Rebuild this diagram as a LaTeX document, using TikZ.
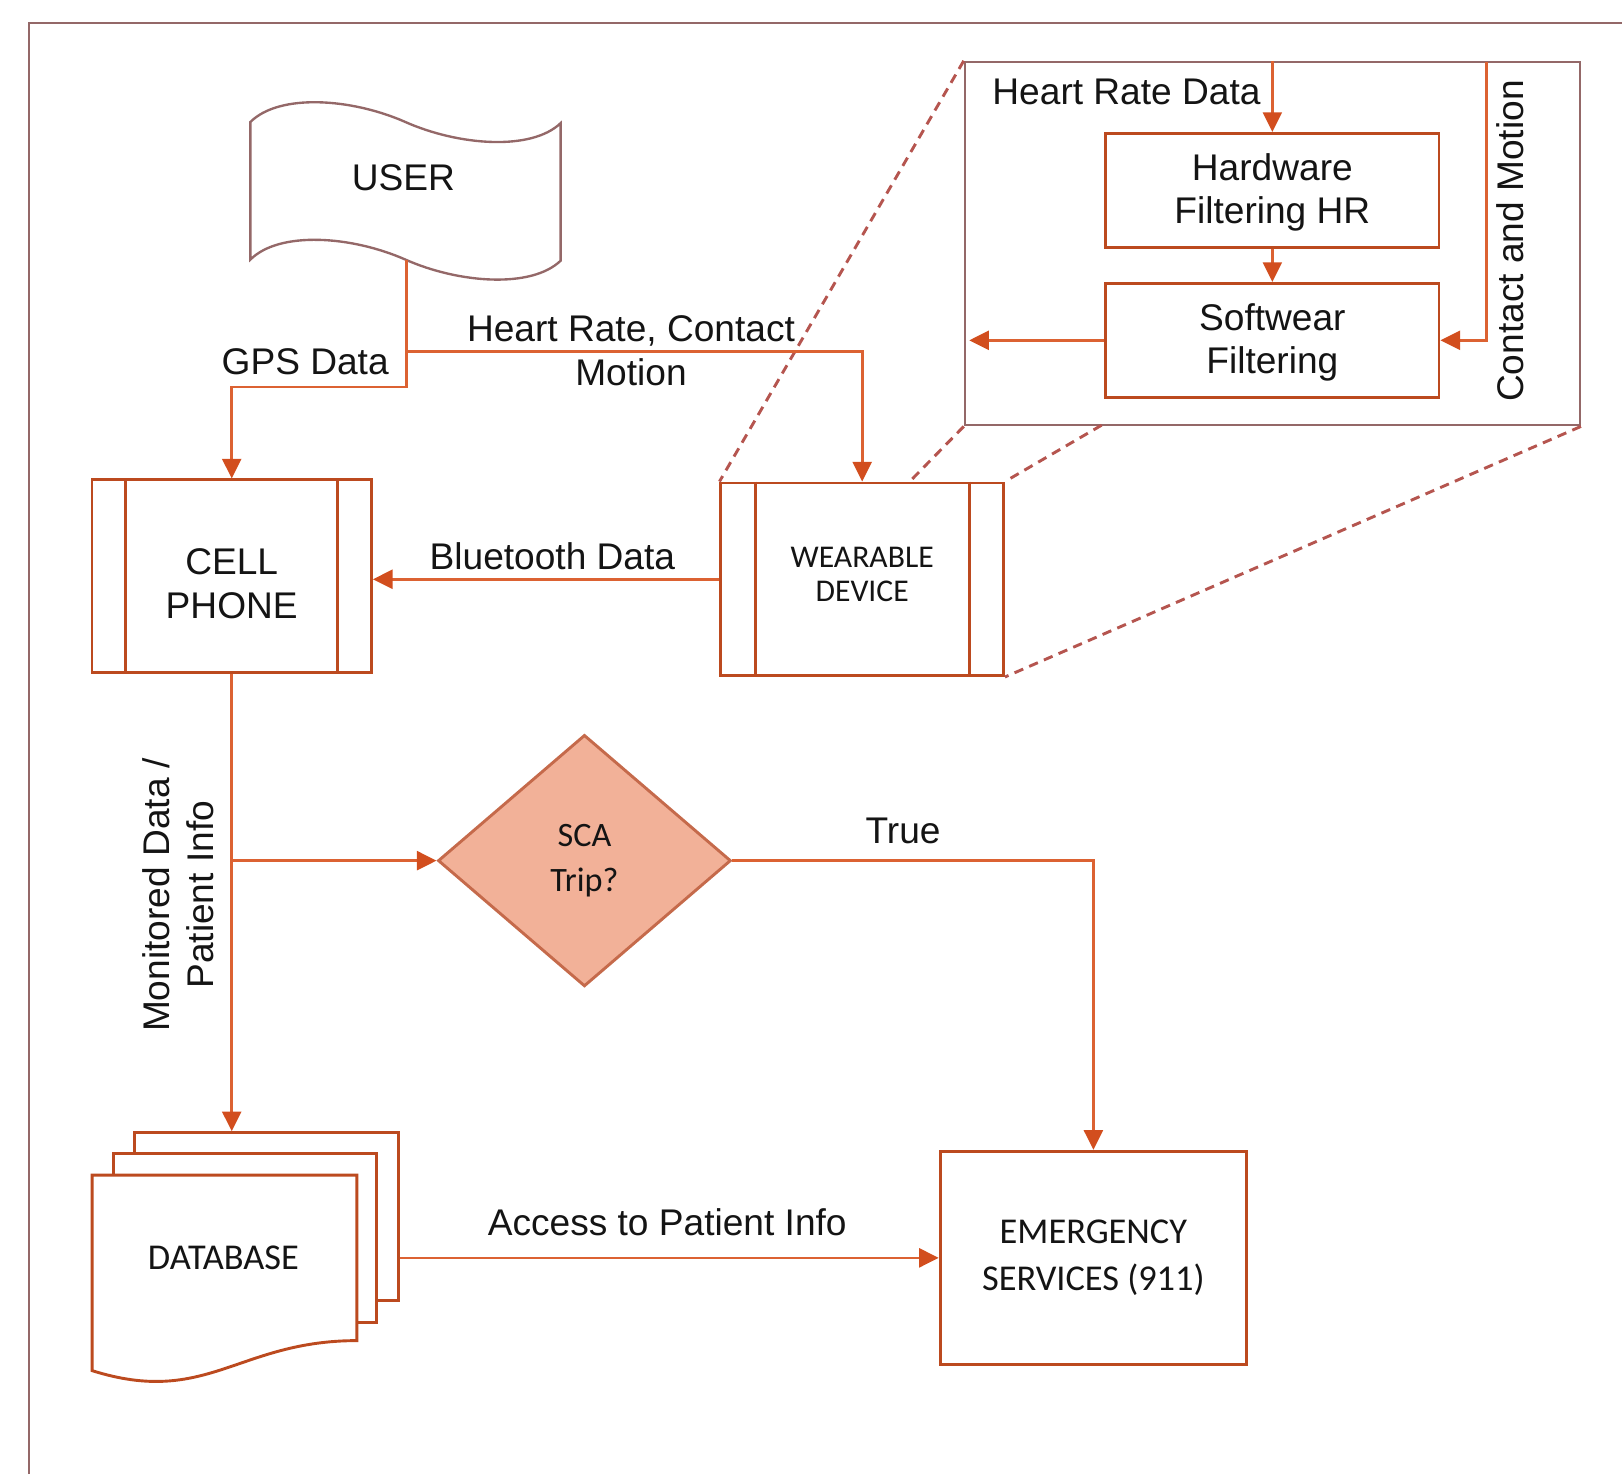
\documentclass[tikz,border=0pt]{standalone}
\usepackage{fontspec}
\setmainfont{Liberation Sans}
\newfontfamily\calfont{Carlito}
\usetikzlibrary{arrows.meta,shapes.geometric,calc}

\definecolor{framec}{HTML}{946868}
\definecolor{boxc}{HTML}{BC4A1F}
\definecolor{linec}{HTML}{DC6232}
\definecolor{tipc}{HTML}{D24E1E}
\definecolor{dashc}{HTML}{B5554F}
\definecolor{decfill}{HTML}{F2B198}
\definecolor{decdraw}{HTML}{C56A4B}
\definecolor{txtc}{HTML}{141414}

\tikzset{
  lbl/.style={inner sep=0pt, align=center, text=txtc},
  boxline/.style={draw=boxc, line width=0.8pt},
  procbox/.style={boxline, fill=white, inner sep=0pt, align=center, text=txtc},
  docpage/.style={boxline, fill=white, inner sep=0pt},
  conn/.style={draw=linec, line width=0.75pt,
    -{Triangle[length=5.4pt,width=5.2pt,color=tipc]}},
  dashl/.style={draw=dashc, line width=0.8pt, dash pattern=on 2.6pt off 1.8pt},
  grayline/.style={draw=framec, line width=0.65pt},
}

\begin{document}
\begin{tikzpicture}[x=0.01cm, y=-0.01cm, font=\fontsize{10.2pt}{12pt}\selectfont]
\useasboundingbox (0,0) rectangle (1568,1425);

% outer frame (top and left edges)
\draw[grayline] (28,1425) -- (28,22) -- (1568,22);

% user: punched-tape shape
\draw[grayline, fill=white]
  (242,118) .. controls (270,90) and (340,95) .. (392,118)
            .. controls (444,141) and (514,146) .. (542,119)
  -- (542,252)
  .. controls (514,279) and (444,274) .. (392,251)
  .. controls (340,228) and (270,223) .. (242,251) -- cycle;
\node[lbl] (user) at (390,172) {USER};
\coordinate (userbot) at (393,251);
\coordinate (split) at (393,340);
\coordinate (gpsturn) at (393,374);

% cell phone and wearable device (predefined process boxes)
\node[procbox, minimum width=2.70cm, minimum height=1.86cm] (cell) at (224,557) {};
\draw[boxline] ([xshift=0.34cm]cell.north west) -- ([xshift=0.34cm]cell.south west);
\draw[boxline] ([xshift=-0.34cm]cell.north east) -- ([xshift=-0.34cm]cell.south east);
\node[lbl] (celltxt) at (224,564) {CELL\\PHONE};

\node[procbox, minimum width=2.73cm, minimum height=1.86cm] (wear) at (833.5,560) {};
\draw[boxline] ([xshift=0.35cm]wear.north west) -- ([xshift=0.35cm]wear.south west);
\draw[boxline] ([xshift=-0.34cm]wear.north east) -- ([xshift=-0.34cm]wear.south east);
\node[lbl, font=\calfont\fontsize{8.7pt}{9.4pt}\selectfont] (weartxt) at (833.5,555) {WEARABLE\\DEVICE};

% detail view of the wearable
\node[grayline, fill=white, minimum width=5.94cm, minimum height=3.51cm, inner sep=0pt] (detail) at (1230,235.5) {};
\node[procbox, minimum width=3.22cm, minimum height=1.10cm] (hw) at (1230,184) {};
\node[lbl] (hwtxt) at (1230,186) {Hardware\\Filtering HR};
\node[procbox, minimum width=3.22cm, minimum height=1.10cm] (sw) at (1230,329) {};
\node[lbl] (swtxt) at (1230,331) {Softwear\\Filtering};
\coordinate (cmtop) at (1437,60);
\coordinate (swout) at (937,329);
\draw[conn] (detail.north) -- (hw.north);
\draw[conn] (hw.south) -- (sw.north);
\draw[conn] (cmtop) |- (sw.east);
\draw[conn] (sw.west) -- (swout);
\node[lbl] (hrd) at (1089,89) {Heart Rate Data};
\node[lbl, rotate=90] (cam) at (1460,233) {Contact and Motion};

% magnification lines
\coordinate (wtop) at (878,467);
\coordinate (dbot) at (1065,411);
\draw[dashl] (detail.north west) -- (wear.north west);
\draw[dashl] (detail.south west) -- (wtop);
\draw[dashl] (dbot) -- (wear.north east);
\draw[dashl] (detail.south east) -- (wear.south east);

% decision
\node[diamond, draw=decdraw, line width=0.8pt, fill=decfill, aspect=1.165,
      minimum width=2.83cm, minimum height=2.43cm, inner sep=0pt, align=center, text=txtc,
      font=\calfont\fontsize{9.4pt}{12.5pt}\selectfont] (sca) at (565,832) {SCA\\Trip?};

% emergency services
\node[procbox, minimum width=2.96cm, minimum height=2.06cm,
      font=\calfont\fontsize{10pt}{12.8pt}\selectfont] (emerg) at (1057,1216) {EMERGENCY\\SERVICES (911)};

% database: stacked documents
\node[docpage, minimum width=2.55cm, minimum height=1.62cm] (dbback) at (257.5,1176) {};
\node[docpage, minimum width=2.54cm, minimum height=1.63cm] (dbmid) at (237,1196.5) {};
\draw[boxline, fill=white] (345,1296) -- (345,1136) -- (89,1136) -- (89,1325)
  .. controls (200,1360) and (230,1296) .. (345,1296) -- cycle;
\node[lbl, font=\calfont\fontsize{10pt}{12pt}\selectfont] (db) at (216,1216) {DATABASE};

% connectors
\draw[conn] (userbot) -- (gpsturn) -| (cell.north);
\draw[conn] (split) -| (wear.north);
\draw[conn] (wear.west) -- (wear.west -| cell.east);
\draw[conn] (cell.south) -- (cell.south |- dbback.north);
\draw[conn] (cell.south |- sca.west) -- (sca.west);
\draw[conn] (sca.east) -| (emerg.north);
\draw[conn] (dbback.east |- emerg.west) -- (emerg.west);

% connector labels
\node[lbl] (gps) at (295,350) {GPS Data};
\node[lbl] (hrcm) at (610,339) {Heart Rate, Contact\\Motion};
\node[lbl] (bt) at (534,538) {Bluetooth Data};
\node[lbl, rotate=90] (mon) at (172,865) {Monitored Data /\\Patient Info};
\node[lbl] (tru) at (873,803) {True};
\node[lbl] (acc) at (645,1182) {Access to Patient Info};
\end{tikzpicture}
\end{document}
